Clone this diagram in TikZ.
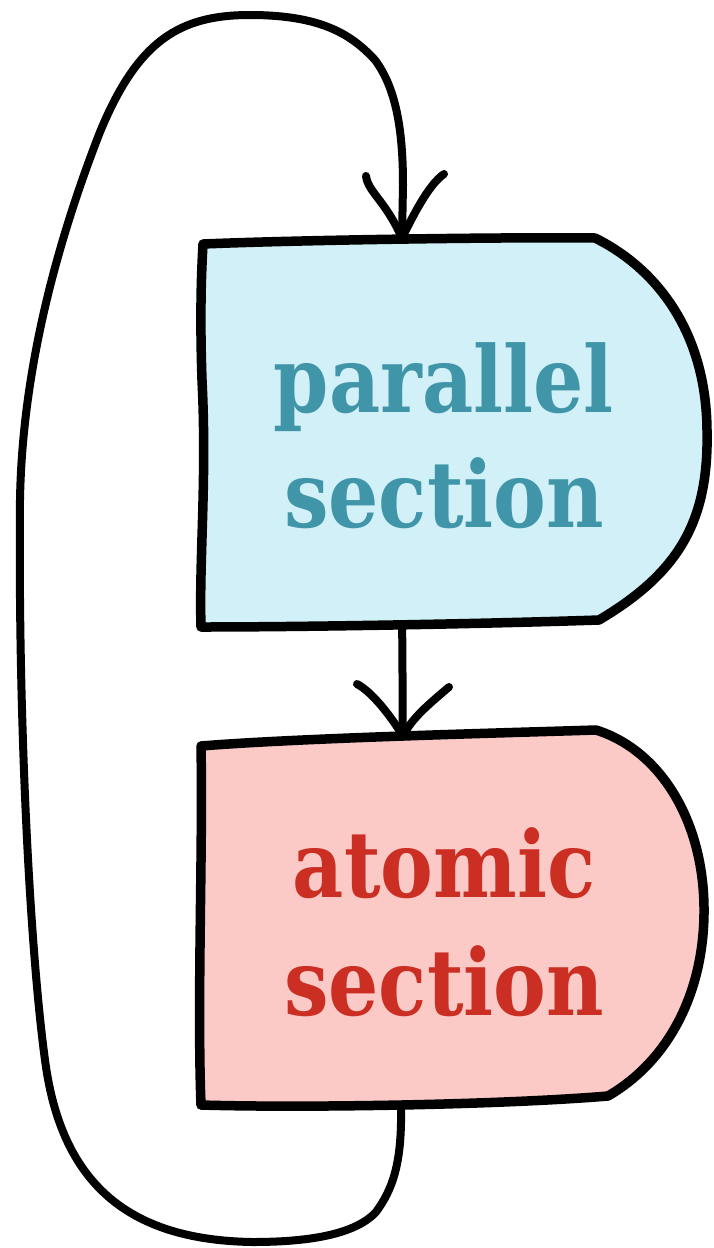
\documentclass[tikz,border=0pt]{standalone}
\usepackage{fontspec}
\newfontfamily\lblfont{DejaVu Serif}[FakeStretch=0.86]
\definecolor{parfill}{HTML}{D1F0F7}
\definecolor{partext}{HTML}{4095A9}
\definecolor{atofill}{HTML}{FBCAC6}
\definecolor{atotext}{HTML}{CB2E22}
\tikzset{
  sectionbox/.style={draw=black, line width=9.5pt, line join=round, line cap=round},
  flowline/.style={draw=black, line width=8pt, line cap=round, line join=round},
  sectionlabel/.style={font=\lblfont\bfseries\fontsize{92}{115}\selectfont, inner sep=0pt, anchor=base}
}
\begin{document}
\begin{tikzpicture}[x=1pt, y=-1pt]
\useasboundingbox (0,0) rectangle (713,1248);

% parallel section block
\draw[sectionbox, fill=parfill]
  (203,244) .. controls (300,240) and (500,237) .. (595,238)
  .. controls (650,265) and (706,325) .. (707,430)
  .. controls (709,520) and (680,572) .. (599,620)
  .. controls (480,624) and (300,627) .. (201,627)
  .. controls (199,560) and (207,480) .. (202,380)
  .. controls (200,320) and (201,280) .. (203,244) -- cycle;
\coordinate (partop) at (402,238);
\coordinate (parbot) at (402,625);

% atomic section block
\draw[sectionbox, fill=atofill]
  (201,746) .. controls (300,738) and (500,733) .. (596,730)
  .. controls (660,750) and (703,820) .. (704,907)
  .. controls (705,990) and (670,1060) .. (608,1096)
  .. controls (500,1105) and (300,1108) .. (201,1105)
  .. controls (197,1000) and (203,850) .. (201,746) -- cycle;
\coordinate (atotop) at (403,736);
\coordinate (atobot) at (401,1108);

% labels
\node[sectionlabel, text=partext] (parA) at (444,412) {parallel};
\node[sectionlabel, text=partext] (parB) at (444,527) {section};
\node[sectionlabel, text=atotext] (atoA) at (444,897) {atomic};
\node[sectionlabel, text=atotext] (atoB) at (444,1015) {section};

% parallel -> atomic
\draw[flowline] (parbot) .. controls (403,670) and (402,700) .. (atotop);
\draw[flowline] (357,684) .. controls (372,692) and (390,715) .. (atotop);
\draw[flowline] (449,687) .. controls (428,705) and (412,718) .. (atotop);

% loop back from atomic to parallel
\draw[flowline] (atobot)
  .. controls (402,1165) and (392,1190) .. (376,1212)
  .. controls (352,1238) and (295,1242) .. (252,1242)
  .. controls (135,1240) and (62,1190) .. (45,1060)
  .. controls (30,950) and (18,720) .. (20,500)
  .. controls (22,380) and (52,255) .. (100,132)
  .. controls (138,40) and (180,15) .. (250,15)
  .. controls (322,15) and (352,35) .. (375,60)
  .. controls (396,88) and (403,130) .. (403,185)
  -- (partop);
\draw[flowline] (366,176) .. controls (368,192) and (385,200) .. (partop);
\draw[flowline] (444,174) .. controls (428,185) and (412,218) .. (partop);
\end{tikzpicture}
\end{document}
